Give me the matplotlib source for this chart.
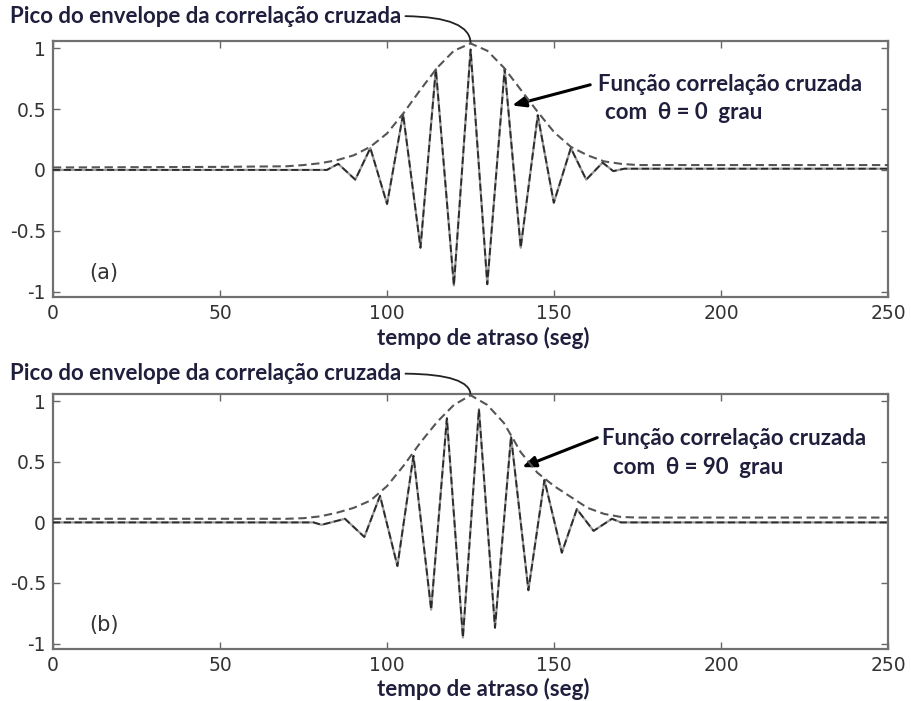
import numpy as np
import matplotlib
matplotlib.use("Agg")
import matplotlib.pyplot as plt

# amostras da correlação cruzada (a) theta = 0 grau
t_a = [0, 82, 85.4, 90.5, 95, 100, 104.8, 110, 114.6, 120, 125, 130, 135.2,
       140, 145.1, 149.9, 155, 159.6, 164.5, 167.7, 171, 250]
c_a = [0, 0, 0.05, -0.08, 0.18, -0.28, 0.46, -0.64, 0.83, -0.95, 0.99, -0.94,
       0.83, -0.64, 0.45, -0.27, 0.18, -0.08, 0.06, -0.01, 0.01, 0.01]
te_a = [0, 50, 70, 75, 80, 85, 90, 95, 100, 105, 110, 115, 120, 125, 130, 135,
        140, 145, 150, 155, 160, 165, 170, 175, 180, 250]
env_a = [0.02, 0.025, 0.03, 0.04, 0.055, 0.08, 0.12, 0.19, 0.30, 0.47, 0.66,
         0.84, 0.98, 1.04, 0.98, 0.84, 0.66, 0.48, 0.31, 0.19, 0.12, 0.07,
         0.05, 0.04, 0.04, 0.04]

# (b) theta = 90 grau
t_b = [0, 78, 80.4, 87.4, 93.2, 97.9, 103.1, 107.9, 113.2, 117.9, 122.7,
       127.5, 132.3, 137.1, 142.3, 147.1, 152.3, 156.8, 161.8, 167.3, 170, 250]
c_b = [0, 0, -0.02, 0.03, -0.12, 0.22, -0.36, 0.55, -0.72, 0.86, -0.95, 0.935,
       -0.87, 0.71, -0.56, 0.35, -0.25, 0.11, -0.07, 0.03, 0, 0]
te_b = [0, 50, 70, 75, 80, 85, 90, 95, 100, 105, 110, 115, 120, 125, 130, 135,
        140, 145, 150, 155, 160, 165, 170, 175, 250]
env_b = [0.03, 0.03, 0.03, 0.035, 0.05, 0.08, 0.12, 0.18, 0.30, 0.47, 0.66,
         0.83, 0.97, 1.05, 0.97, 0.82, 0.58, 0.41, 0.30, 0.21, 0.12, 0.07,
         0.045, 0.04, 0.04]

xticks = [0, 50, 100, 150, 200, 250]
yticks = [-1, -0.5, 0, 0.5, 1]
ytick_labels = ["-1", "-0.5", "0", "0.5", "1"]

navy = "#1f1f3d"
anot_font = "Lato"
anot_size = 16

fig = plt.figure(figsize=(9.12, 7.01), dpi=100)
ax_a = fig.add_axes([0.058, 0.5763, 0.916, 0.3652])
ax_b = fig.add_axes([0.058, 0.0742, 0.916, 0.3637])

paineis = [
    (ax_a, t_a, c_a, te_a, env_a, "(a)", "0", (137.4, 0.53), (160.8, 0.70),
     (163.2, 0.70), (165.3, 0.475), 0.977),
    (ax_b, t_b, c_b, te_b, env_b, "(b)", "90", (140.4, 0.456), (162.9, 0.70),
     (164.4, 0.69), (167.7, 0.45), 0.467),
]

for ax, t, c, te, env, tag, ang, tip, base, txt1, txt2, ypico in paineis:
    # curva de correlação: traço cinza com tracejado escuro por cima
    ax.plot(t, c, color="#9a9a9a", lw=1.6, zorder=2)
    ax.plot(t, c, color="#2a2a2a", lw=1.3, dashes=(4, 2), zorder=3)
    # envelope
    ax.plot(te, env, color="#555555", lw=1.5, dashes=(4, 2.2), zorder=4)

    ax.set_xlim(0, 250)
    ax.set_ylim(-1.045, 1.06)
    ax.set_xticks(xticks)
    ax.set_yticks(yticks)
    ax.set_yticklabels(ytick_labels)
    ax.tick_params(direction="in", top=True, right=True, length=5, width=1,
                   color="#666666", labelsize=13.5, labelcolor="#333333", pad=5)
    for s in ax.spines.values():
        s.set_color("#707070")
        s.set_linewidth(1.6)

    ax.text(15.3, -0.845, tag, fontsize=15, color="#333333",
            ha="center", va="center")

    ax.set_xlabel("tempo de atraso (seg)", fontsize=anot_size,
                  fontweight="bold", color=navy, family=anot_font)
    ax.xaxis.set_label_coords(0.515, -0.115)

    # seta da função correlação
    ax.annotate("", xy=tip, xytext=base,
                arrowprops=dict(arrowstyle="-|>,head_length=0.8,head_width=0.32",
                                lw=2.2, color="black", shrinkA=0, shrinkB=0))
    ax.text(txt1[0], txt1[1], "Função correlação cruzada", fontsize=anot_size,
            fontweight="bold", color=navy, family=anot_font,
            ha="left", va="center")
    ax.text(txt2[0], txt2[1], f"com  θ = {ang}  grau", fontsize=anot_size,
            fontweight="bold", color=navy, family=[anot_font, "DejaVu Sans"],
            ha="left", va="center")

    # pico do envelope
    ipk = int(np.argmax(env))
    ax.annotate("Pico do envelope da correlação cruzada",
                xy=(te[ipk], env[ipk]), xycoords="data",
                xytext=(0.011, ypico), textcoords="figure fraction",
                fontsize=anot_size, fontweight="bold", color=navy,
                family=anot_font, ha="left", va="center",
                annotation_clip=False,
                arrowprops=dict(arrowstyle="-", lw=1.3, color="#222222",
                                relpos=(1, 0.5), shrinkA=1, shrinkB=0,
                                connectionstyle="angle3,angleA=0,angleB=90"))

fig.savefig("out.png", dpi=100)
